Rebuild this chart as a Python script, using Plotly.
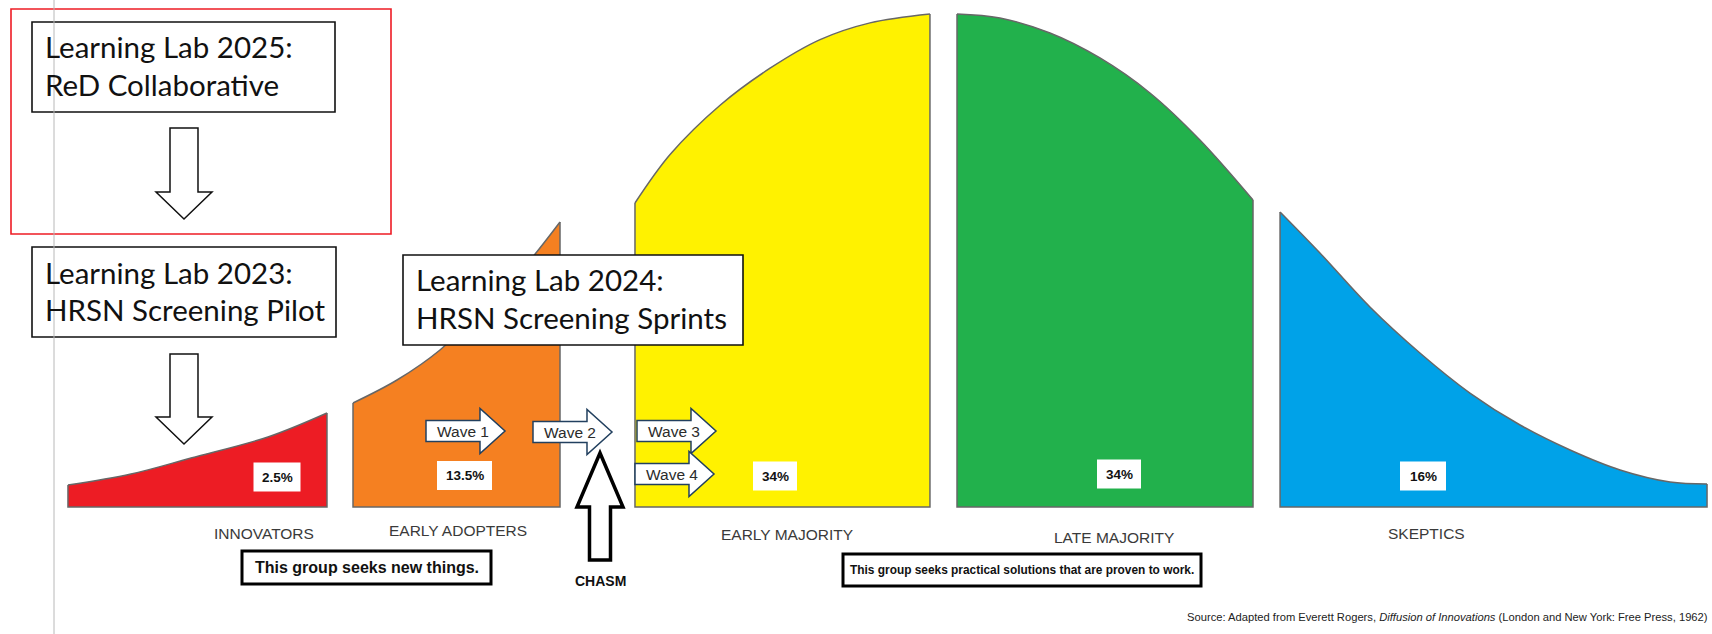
import plotly.graph_objects as go

# ---------------- data ----------------
# x: position along the adoption timeline (% of chart width)
# y: relative height of the adoption curve (% of its peak)
segment_names = ["INNOVATORS", "EARLY ADOPTERS", "EARLY MAJORITY", "LATE MAJORITY", "SKEPTICS"]
segment_shares = ["2.5%", "13.5%", "34%", "34%", "16%"]
segment_colors = ["#ED1C24", "#F58021", "#FFF200", "#22B14C", "#00A2E8"]

innovators_x = [3.97, 7.65, 11.16, 15.65, 19.10]
innovators_y = [4.46, 6.69, 9.94, 14.20, 19.07]
early_adopters_x = [20.62, 23.19, 25.70, 28.04, 30.37, 32.71]
early_adopters_y = [21.10, 25.76, 31.85, 39.76, 47.67, 57.81]
early_majority_x = [37.09, 39.14, 42.06, 44.98, 47.90, 50.82, 54.32]
early_majority_y = [61.66, 71.50, 81.50, 89.00, 94.80, 98.20, 100.0]
late_majority_x = [55.90, 58.41, 61.33, 64.25, 67.17, 70.09, 73.19]
late_majority_y = [100.0, 99.19, 96.15, 91.08, 83.98, 74.44, 62.27]
skeptics_x = [74.77, 77.10, 80.02, 82.94, 85.86, 88.79, 91.71, 94.63, 97.55, 99.71]
skeptics_y = [59.84, 51.52, 40.57, 31.24, 23.12, 16.63, 11.56, 7.51, 5.07, 4.67]

wave_labels = ["Wave 1", "Wave 2", "Wave 3", "Wave 4"]
lab_titles = [
    ("Learning Lab 2025:", "ReD Collaborative"),
    ("Learning Lab 2023:", "HRSN Screening Pilot"),
    ("Learning Lab 2024:", "HRSN Screening Sprints"),
]
group_notes = ["This group seeks new things.",
               "This group seeks practical solutions that are proven to work."]
source_text = ("Source: Adapted from Everett Rogers, <i>Diffusion of Innovations</i> "
               "(London and New York: Free Press, 1962)")

# ---------------- layout helpers ----------------
W, H = 1712, 634


def px(x):
    return x / W


def py(y):
    return 1 - y / H


def poly(points):
    return "M " + " L ".join(f"{px(x):.5f},{py(y):.5f}" for x, y in points) + " Z"


fig = go.Figure()

segments = [
    (innovators_x, innovators_y),
    (early_adopters_x, early_adopters_y),
    (early_majority_x, early_majority_y),
    (late_majority_x, late_majority_y),
    (skeptics_x, skeptics_y),
]
outline = "#676767"
for (xs, ys), col, name in zip(segments, segment_colors, segment_names):
    fig.add_trace(go.Scatter(
        x=xs, y=ys, mode="lines", fill="tozeroy", fillcolor=col,
        line=dict(color=outline, width=1.5, shape="spline", smoothing=1),
        hoverinfo="skip", showlegend=False, name=name))
    fig.add_trace(go.Scatter(
        x=[xs[0], xs[0], xs[-1], xs[-1]], y=[ys[0], 0, 0, ys[-1]],
        mode="lines", line=dict(color=outline, width=1.5),
        hoverinfo="skip", showlegend=False))

shapes = []
annotations = []

ARIAL = "Liberation Sans, Arial, sans-serif"
CAL = "Lato, Carlito, Calibri, sans-serif"

# red frame
shapes.append(dict(type="rect", xref="paper", yref="paper",
                   x0=px(11), x1=px(391), y0=py(234), y1=py(9),
                   line=dict(color="#EE1C25", width=1.6), fillcolor="rgba(0,0,0,0)"))

# learning lab boxes
lab_boxes = [(32, 22, 335, 112), (32, 247, 336, 337), (403, 255, 743, 345)]
for (x0, y0, x1, y1), (l1, l2) in zip(lab_boxes, lab_titles):
    shapes.append(dict(type="rect", xref="paper", yref="paper",
                       x0=px(x0), x1=px(x1), y0=py(y1), y1=py(y0),
                       line=dict(color="#111111", width=1.6), fillcolor="white"))
    for txt, base in ((l1, y0 + 36), (l2, y0 + 73)):
        annotations.append(dict(xref="paper", yref="paper", x=px(x0 + 11), y=py(base - 11),
                                xanchor="left", yanchor="middle", showarrow=False,
                                text=txt, font=dict(family=CAL, size=29.5, color="#111111")))

# down arrows
for top, base, tip in ((128, 192, 219), (354, 417, 444)):
    shapes.append(dict(type="path", xref="paper", yref="paper",
                       path=poly([(170, top), (198, top), (198, base), (212, base),
                                  (184, tip), (156, base), (170, base)]),
                       line=dict(color="#111111", width=1.5), fillcolor="white"))

# percentage labels
label_boxes = [(277, 477, 47), (464.5, 475.5, 55), (775, 476, 44), (1119, 474, 44), (1423, 476, 46)]
for (cx, cy, w), share in zip(label_boxes, segment_shares):
    shapes.append(dict(type="rect", xref="paper", yref="paper",
                       x0=px(cx - w / 2), x1=px(cx + w / 2), y0=py(cy + 14.5), y1=py(cy - 14.5),
                       line=dict(width=0), fillcolor="white"))
    annotations.append(dict(xref="paper", yref="paper", x=px(cx), y=py(cy),
                            xanchor="center", yanchor="middle", showarrow=False,
                            text=f"<b>{share}</b>", font=dict(family=ARIAL, size=13.5, color="#111111")))

# wave arrows
wave_pos = [(426, 431), (533, 432), (637, 431), (635, 474)]
for (x0, yc), lab in zip(wave_pos, wave_labels):
    tip = x0 + 79
    hb = tip - 25
    shapes.append(dict(type="path", xref="paper", yref="paper",
                       path=poly([(x0, yc - 10.5), (hb, yc - 10.5), (hb, yc - 22.5), (tip, yc),
                                  (hb, yc + 22.5), (hb, yc + 10.5), (x0, yc + 10.5)]),
                       line=dict(color="#22405F", width=1.5), fillcolor="white"))
    annotations.append(dict(xref="paper", yref="paper", x=px(x0 + 37), y=py(yc),
                            xanchor="center", yanchor="middle", showarrow=False,
                            text=lab, font=dict(family=ARIAL, size=15.5, color="#2b2b2b")))

# chasm arrow
shapes.append(dict(type="path", xref="paper", yref="paper",
                   path=poly([(600, 453), (623, 507), (610.5, 507), (610.5, 560),
                              (589.5, 560), (589.5, 507), (577, 507)]),
                   line=dict(color="#000000", width=3.5), fillcolor="white"))
annotations.append(dict(xref="paper", yref="paper", x=px(600), y=py(581),
                        xanchor="center", yanchor="middle", showarrow=False,
                        text="<b>CHASM</b>", font=dict(family=ARIAL, size=14, color="#111111")))

# category labels
cat_pos = [(264, 533), (458, 530), (787, 534), (1114, 537), (1426, 533)]
for (cx, cy), name in zip(cat_pos, segment_names):
    annotations.append(dict(xref="paper", yref="paper", x=px(cx), y=py(cy),
                            xanchor="center", yanchor="middle", showarrow=False,
                            text=name, font=dict(family=ARIAL, size=15.5, color="#3a3a3a")))

# group notes
note_boxes = [(242, 551, 491, 584, 16), (843, 554, 1201, 586, 11.9)]
for (x0, y0, x1, y1, fs), note in zip(note_boxes, group_notes):
    shapes.append(dict(type="rect", xref="paper", yref="paper",
                       x0=px(x0), x1=px(x1), y0=py(y1), y1=py(y0),
                       line=dict(color="#000000", width=3), fillcolor="white"))
    annotations.append(dict(xref="paper", yref="paper", x=px((x0 + x1) / 2), y=py((y0 + y1) / 2),
                            xanchor="center", yanchor="middle", showarrow=False,
                            text=f"<b>{note}</b>", font=dict(family=ARIAL, size=fs, color="#111111")))

# source
annotations.append(dict(xref="paper", yref="paper", x=px(1710), y=py(617),
                        xanchor="right", yanchor="middle", showarrow=False,
                        text=source_text, font=dict(family=ARIAL, size=11.2, color="#222222")))

# thin grey guide line
shapes.append(dict(type="line", xref="paper", yref="paper",
                   x0=px(54), x1=px(54), y0=0, y1=1,
                   line=dict(color="#b8b8b8", width=1)))

fig.update_layout(
    width=W, height=H, margin=dict(l=0, r=0, t=0, b=0),
    paper_bgcolor="white", plot_bgcolor="white",
    xaxis=dict(range=[0, 100], visible=False, fixedrange=True),
    yaxis=dict(range=[-25.76, 102.84], visible=False, fixedrange=True),
    shapes=shapes, annotations=annotations, showlegend=False,
)

fig.write_html("out.html")
